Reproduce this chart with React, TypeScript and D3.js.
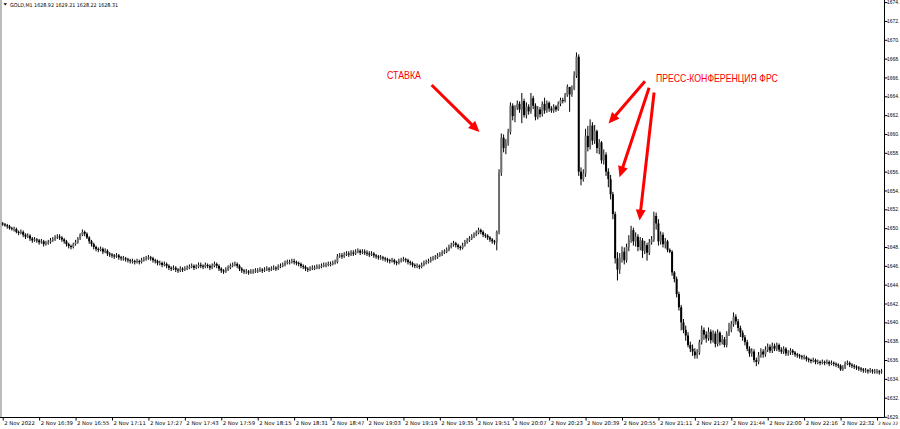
import React, { useEffect, useRef } from "react";
import * as d3 from "d3";

const W = 900;
const H = 429;

const headerText = "GOLD,M1  1628.92 1629.21 1628.22 1628.31";
const firstOpen = 1650.5;

const closes = [
  1650.4,1650.3,1650.2,1650.0,1649.9,1649.9,1649.6,1649.5,1649.6,1649.3,1649.1,1649.2,1648.9,1648.7,1648.8,1648.7,
  1648.5,1648.6,1648.3,1648.4,1648.5,1648.7,1648.8,1649.0,1649.1,1649.0,1648.8,1648.6,1648.3,1648.1,1648.0,1648.3,
  1648.5,1648.9,1649.3,1649.6,1649.4,1649.0,1648.6,1648.3,1648.0,1647.8,1647.7,1647.8,1647.5,1647.6,1647.3,1647.2,
  1647.1,1647.0,1647.1,1646.9,1646.8,1646.8,1646.7,1646.6,1646.5,1646.5,1646.4,1646.5,1646.4,1646.6,1646.7,1646.8,
  1646.9,1646.8,1646.6,1646.5,1646.3,1646.3,1646.1,1646.2,1646.0,1645.8,1645.7,1645.8,1645.6,1645.5,1645.7,1645.6,
  1645.7,1645.8,1645.9,1646.0,1645.8,1645.9,1646.1,1646.0,1645.9,1646.1,1646.0,1645.8,1646.0,1646.2,1646.0,1645.7,
  1645.5,1645.4,1645.6,1645.8,1646.0,1646.1,1646.2,1646.0,1645.7,1645.5,1645.4,1645.4,1645.3,1645.4,1645.4,1645.5,
  1645.5,1645.6,1645.5,1645.6,1645.7,1645.6,1645.7,1645.8,1645.7,1645.9,1646.0,1646.1,1646.3,1646.4,1646.4,1646.5,
  1646.4,1646.3,1646.2,1646.0,1645.9,1645.7,1645.6,1645.7,1645.8,1645.8,1645.9,1645.9,1646.0,1646.1,1646.1,1646.2,
  1646.2,1646.3,1646.4,1647.0,1647.1,1647.0,1647.2,1647.3,1647.2,1647.4,1647.3,1647.5,1647.6,1647.4,1647.5,1647.4,
  1647.3,1647.2,1647.3,1647.1,1647.0,1646.9,1646.9,1646.8,1646.7,1646.6,1646.5,1646.6,1646.4,1646.3,1646.5,1646.6,
  1646.7,1646.6,1646.4,1646.3,1646.1,1646.0,1646.0,1645.9,1646.1,1646.3,1646.4,1646.5,1646.7,1646.8,1646.9,1647.1,
  1647.2,1647.4,1647.5,1647.7,1648.0,1648.2,1648.4,1648.2,1648.0,1647.9,1648.2,1648.5,1648.7,1648.9,1649.1,1649.3,
  1649.5,1649.8,1649.6,1649.3,1649.2,1649.0,1648.8,1648.6,1648.5,1649.6,1655.9,1659.6,1658.5,1659.0,1660.2,1663.0,
  1661.9,1662.8,1663.2,1662.6,1663.5,1662.0,1662.9,1662.4,1663.8,1663.0,1661.8,1662.6,1662.1,1663.2,1662.5,1663.3,
  1662.7,1662.5,1662.9,1662.6,1663.2,1663.6,1663.5,1664.1,1665.0,1664.2,1664.8,1666.2,1668.2,1656.0,1655.2,1655.8,
  1659.8,1658.6,1660.9,1659.3,1660.3,1658.5,1659.1,1657.2,1657.8,1656.0,1655.2,1653.6,1651.5,1646.8,1645.6,1646.9,
  1647.5,1646.6,1648.0,1648.8,1649.8,1648.6,1649.1,1648.0,1648.7,1647.6,1648.2,1647.4,1648.5,1648.8,1651.3,1650.5,
  1648.6,1649.3,1648.3,1648.6,1647.7,1647.5,1645.3,1644.6,1643.0,1641.6,1640.0,1639.2,1638.6,1637.6,1637.2,1636.9,
  1636.5,1636.8,1637.9,1639.2,1638.7,1638.3,1639.0,1638.1,1638.8,1637.7,1638.9,1637.9,1638.2,1637.6,1638.8,1639.3,
  1639.8,1640.6,1640.1,1639.4,1638.9,1638.4,1637.9,1637.2,1636.7,1636.9,1636.0,1635.8,1636.5,1636.9,1636.6,1637.1,
  1637.4,1637.0,1637.5,1637.2,1637.6,1637.1,1636.9,1637.2,1636.7,1636.8,1637.0,1636.8,1636.6,1636.5,1636.4,1636.3,
  1636.3,1636.1,1636.0,1635.9,1636.0,1635.8,1635.8,1635.7,1635.8,1635.7,1635.8,1635.6,1635.7,1635.6,1635.5,1635.4,
  1635.0,1635.2,1635.6,1635.7,1635.5,1635.4,1635.3,1635.2,1635.1,1635.0,1634.9,1634.9,1634.8,1634.9,1634.8,1634.8,
  1634.8,1634.7,1634.8,
];

const highs = [
  1650.6,1650.5,1650.4,1650.3,1650.1,1650.1,1650.0,1649.7,1649.8,1649.7,1649.4,1649.4,1649.3,1649.0,1649.0,1648.9,
  1648.8,1648.8,1648.7,1648.6,1648.7,1648.9,1649.0,1649.2,1649.3,1649.3,1649.1,1648.9,1648.7,1648.4,1648.2,1648.4,
  1648.7,1649.0,1649.4,1649.8,1649.7,1649.5,1649.1,1648.7,1648.4,1648.1,1647.9,1648.0,1647.9,1647.8,1647.7,1647.4,
  1647.3,1647.2,1647.3,1647.2,1647.0,1647.0,1646.9,1646.8,1646.7,1646.7,1646.6,1646.7,1646.6,1646.8,1646.9,1647.0,
  1647.1,1647.0,1646.9,1646.7,1646.6,1646.5,1646.4,1646.4,1646.3,1646.1,1645.9,1646.0,1645.9,1645.7,1645.9,1645.8,
  1645.9,1646.0,1646.1,1646.2,1646.1,1646.1,1646.3,1646.3,1646.1,1646.3,1646.2,1646.1,1646.2,1646.4,1646.3,1646.1,
  1645.8,1645.6,1645.8,1646.0,1646.2,1646.3,1646.4,1646.3,1646.1,1645.8,1645.6,1645.6,1645.5,1645.6,1645.6,1645.7,
  1645.7,1645.8,1645.7,1645.8,1645.9,1645.8,1645.9,1646.0,1645.9,1646.1,1646.2,1646.3,1646.5,1646.6,1646.6,1646.7,
  1646.7,1646.5,1646.4,1646.3,1646.1,1646.0,1645.8,1645.9,1646.0,1646.0,1646.1,1646.1,1646.2,1646.3,1646.3,1646.4,
  1646.4,1646.5,1646.6,1647.2,1647.3,1647.3,1647.4,1647.5,1647.5,1647.6,1647.6,1647.7,1647.8,1647.7,1647.7,1647.7,
  1647.6,1647.5,1647.5,1647.4,1647.2,1647.1,1647.1,1647.0,1646.9,1646.8,1646.7,1646.8,1646.7,1646.5,1646.7,1646.8,
  1646.9,1646.8,1646.7,1646.5,1646.4,1646.2,1646.2,1646.1,1646.3,1646.5,1646.6,1646.7,1646.9,1647.0,1647.1,1647.3,
  1647.4,1647.6,1647.7,1647.9,1648.2,1648.4,1648.6,1648.5,1648.3,1648.1,1648.4,1648.7,1648.9,1649.1,1649.3,1649.5,
  1649.7,1650.0,1649.9,1649.7,1649.4,1649.3,1649.1,1648.9,1648.7,1649.7,1656.2,1660.0,1659.9,1659.4,1660.5,1663.3,
  1663.2,1663.0,1663.5,1663.4,1664.3,1663.7,1663.3,1663.1,1664.3,1664.0,1663.2,1662.9,1662.8,1663.4,1663.8,1663.5,
  1663.4,1662.9,1663.1,1663.0,1663.4,1663.8,1663.8,1664.3,1665.2,1664.9,1665.1,1666.6,1668.6,1668.4,1656.4,1656.2,
  1660.5,1660.8,1661.5,1661.2,1660.9,1660.4,1659.4,1659.2,1658.3,1658.0,1656.3,1655.6,1653.8,1651.7,1647.4,1647.3,
  1648.0,1647.9,1648.3,1649.2,1650.2,1650.0,1649.5,1649.3,1649.0,1648.9,1648.6,1648.4,1648.8,1649.1,1651.7,1651.6,
  1650.9,1649.6,1649.5,1648.9,1648.7,1647.8,1647.6,1645.4,1644.8,1643.2,1641.8,1640.3,1639.6,1638.9,1637.9,1637.6,
  1637.2,1637.1,1638.1,1639.6,1639.4,1639.0,1639.4,1639.2,1639.1,1639.0,1639.2,1639.0,1638.6,1638.4,1639.0,1639.9,
  1640.1,1641.0,1640.8,1640.3,1639.6,1639.1,1638.6,1638.1,1637.4,1637.2,1637.1,1636.2,1636.8,1637.2,1637.1,1637.4,
  1637.7,1637.6,1637.8,1637.7,1637.8,1637.7,1637.3,1637.4,1637.3,1637.0,1637.2,1637.1,1636.9,1636.7,1636.6,1636.5,
  1636.5,1636.4,1636.2,1636.1,1636.2,1636.1,1636.0,1635.9,1636.0,1635.9,1636.0,1635.9,1635.9,1635.8,1635.7,1635.6,
  1635.5,1635.4,1635.8,1635.9,1635.8,1635.6,1635.5,1635.4,1635.3,1635.2,1635.1,1635.1,1635.0,1635.1,1635.0,1635.0,
  1635.0,1634.9,1635.0,
];

const lows = [
  1650.3,1650.2,1650.0,1649.9,1649.8,1649.7,1649.5,1649.3,1649.4,1649.1,1648.9,1649.0,1648.7,1648.5,1648.6,1648.5,
  1648.3,1648.4,1648.1,1648.2,1648.3,1648.4,1648.6,1648.7,1648.9,1648.8,1648.6,1648.4,1648.1,1647.9,1647.8,1647.9,
  1648.2,1648.4,1648.8,1649.2,1649.2,1648.9,1648.4,1648.1,1647.8,1647.6,1647.5,1647.6,1647.3,1647.4,1647.1,1647.0,
  1646.9,1646.8,1646.9,1646.7,1646.6,1646.6,1646.5,1646.4,1646.3,1646.3,1646.2,1646.3,1646.2,1646.3,1646.5,1646.6,
  1646.7,1646.6,1646.4,1646.3,1646.1,1646.1,1645.9,1646.0,1645.8,1645.6,1645.5,1645.6,1645.4,1645.3,1645.4,1645.4,
  1645.5,1645.6,1645.7,1645.8,1645.6,1645.7,1645.8,1645.8,1645.7,1645.8,1645.8,1645.6,1645.7,1645.9,1645.8,1645.5,
  1645.3,1645.2,1645.3,1645.5,1645.7,1645.9,1646.0,1645.8,1645.5,1645.3,1645.2,1645.2,1645.1,1645.2,1645.2,1645.3,
  1645.3,1645.4,1645.3,1645.4,1645.5,1645.4,1645.5,1645.6,1645.5,1645.6,1645.8,1645.9,1646.0,1646.2,1646.2,1646.3,
  1646.2,1646.1,1646.0,1645.8,1645.7,1645.5,1645.4,1645.5,1645.6,1645.6,1645.7,1645.7,1645.8,1645.9,1645.9,1646.0,
  1646.0,1646.1,1646.2,1646.3,1646.9,1646.8,1646.9,1647.1,1647.0,1647.1,1647.1,1647.2,1647.4,1647.2,1647.3,1647.2,
  1647.1,1647.0,1647.1,1646.9,1646.8,1646.7,1646.7,1646.6,1646.5,1646.4,1646.3,1646.4,1646.2,1646.1,1646.2,1646.4,
  1646.5,1646.4,1646.2,1646.1,1645.9,1645.8,1645.8,1645.7,1645.8,1646.0,1646.2,1646.3,1646.4,1646.6,1646.7,1646.8,
  1647.0,1647.1,1647.3,1647.4,1647.6,1647.9,1648.1,1648.0,1647.8,1647.7,1647.8,1648.1,1648.4,1648.6,1648.8,1649.0,
  1649.2,1649.4,1649.4,1649.1,1649.0,1648.8,1648.6,1648.4,1648.3,1647.7,1649.4,1655.6,1658.1,1657.9,1658.8,1660.0,
  1661.5,1661.3,1662.6,1662.3,1661.2,1661.8,1661.7,1662.1,1662.2,1662.7,1661.5,1661.6,1661.8,1661.9,1662.2,1662.3,
  1662.4,1662.3,1662.3,1662.4,1662.5,1663.0,1663.3,1663.4,1664.0,1662.4,1664.0,1664.7,1666.0,1655.6,1654.6,1655.0,
  1655.5,1658.2,1658.4,1658.9,1659.0,1658.0,1657.9,1656.9,1656.8,1655.6,1654.4,1653.1,1651.0,1646.3,1644.5,1645.2,
  1646.4,1646.2,1646.4,1647.6,1648.5,1648.2,1648.1,1647.6,1647.7,1646.9,1647.3,1646.6,1647.2,1648.3,1648.6,1649.9,
  1648.2,1648.3,1648.0,1647.9,1647.5,1647.4,1645.0,1644.3,1642.7,1641.3,1639.2,1638.9,1638.1,1637.4,1636.9,1636.5,
  1636.2,1636.2,1636.6,1637.7,1638.2,1637.9,1638.1,1637.8,1637.9,1637.4,1637.5,1637.6,1637.7,1637.4,1637.4,1638.6,
  1639.0,1639.6,1639.8,1639.1,1638.5,1638.1,1637.6,1637.0,1636.4,1636.4,1635.8,1635.4,1635.6,1636.3,1636.3,1636.4,
  1636.9,1636.8,1636.8,1637.0,1637.0,1636.9,1636.7,1636.7,1636.5,1636.5,1636.6,1636.6,1636.4,1636.3,1636.2,1636.1,
  1636.1,1635.9,1635.8,1635.7,1635.8,1635.6,1635.6,1635.5,1635.6,1635.5,1635.6,1635.4,1635.5,1635.4,1635.3,1635.2,
  1634.9,1634.9,1635.1,1635.5,1635.3,1635.2,1635.1,1635.0,1634.9,1634.8,1634.7,1634.7,1634.6,1634.7,1634.6,1634.6,
  1634.6,1634.5,1634.6,
];

const timeLabels = [
  "2 Nov 2022", "2 Nov 16:39", "2 Nov 16:55", "2 Nov 17:11", "2 Nov 17:27", "2 Nov 17:43",
  "2 Nov 17:59", "2 Nov 18:15", "2 Nov 18:31", "2 Nov 18:47", "2 Nov 19:03", "2 Nov 19:19",
  "2 Nov 19:35", "2 Nov 19:51", "2 Nov 20:07", "2 Nov 20:23", "2 Nov 20:39", "2 Nov 20:55",
  "2 Nov 21:11", "2 Nov 21:27", "2 Nov 21:44", "2 Nov 22:00", "2 Nov 22:16", "2 Nov 22:32",
  "2 Nov 22",
];
const labelEvery = 16;

// price scale labels as visible at the window edge
const priceTicks = [1674, 1672, 1670, 1668, 1666, 1664, 1662, 1660, 1658, 1656, 1654, 1652, 1650, 1648, 1646, 1644, 1642, 1640, 1638, 1636, 1634, 1632];
const bottomPrice = 1629.97;

// annotations in data coordinates (bar index, price)
const noteTexts = ["СТАВКА", "ПРЕСС-КОНФЕРЕНЦИЯ ФРС"];
const noteIdx = [168.8, 286.9];
const notePrice = [1665.8, 1665.5];
const noteWidth = [34, 122];

const arrowFromIdx = [188.4, 282.1, 283.9, 286.1];
const arrowFromPrice = [1665.2, 1665.6, 1664.9, 1664.4];
const arrowToIdx = [209.4, 266.1, 270.9, 279.7];
const arrowToPrice = [1660.2, 1661.1, 1655.4, 1650.8];

export default function App() {
  const ref = useRef<SVGSVGElement>(null);

  useEffect(() => {
    const svg = d3.select(ref.current);
    svg.selectAll("*").remove();

    const plotRight = 884.5;
    const plotBottom = 417.5;
    const x = d3.scaleLinear().domain([0, 384]).range([2.7, 877]);
    const y = d3.scaleLinear().domain([1632, 1674]).range([397.7, 2.1]);

    svg.append("rect").attr("width", W).attr("height", H).attr("fill", "#ffffff");

    const defs = svg.append("defs");
    defs.append("clipPath").attr("id", "plotClip")
      .append("rect").attr("x", 0).attr("y", 0).attr("width", plotRight).attr("height", plotBottom);

    // left window border
    svg.append("rect").attr("x", 0).attr("y", 0).attr("width", 2).attr("height", plotBottom)
      .attr("fill", "#bcbcbc");

    const bars = closes.map((c, i) => ({
      i,
      o: i === 0 ? firstOpen : closes[i - 1],
      h: highs[i],
      l: lows[i],
      c,
    }));

    const g = svg.append("g").attr("clip-path", "url(#plotClip)");
    g.selectAll("line.wick").data(bars).join("line")
      .attr("class", "wick")
      .attr("x1", (d) => x(d.i)).attr("x2", (d) => x(d.i))
      .attr("y1", (d) => y(d.h) - 0.5).attr("y2", (d) => y(d.l) + 0.5)
      .attr("stroke", "#000").attr("stroke-width", 1);
    g.selectAll("rect.body").data(bars).join("rect")
      .attr("class", "body")
      .attr("x", (d) => x(d.i) - 1)
      .attr("width", 2)
      .attr("y", (d) => y(Math.max(d.o, d.c)))
      .attr("height", (d) => Math.max(1, Math.abs(y(d.o) - y(d.c))))
      .attr("fill", (d) => (d.c >= d.o ? "#6e6e6e" : "#000"));

    // right price axis
    const yAxis = d3.axisRight(y)
      .tickValues([...priceTicks, bottomPrice])
      .tickFormat((d) => `${Math.floor(d as number)}.`)
      .tickSize(3)
      .tickSizeOuter(0)
      .tickPadding(-0.5);
    const ya = svg.append("g").attr("transform", `translate(${plotRight},0)`).call(yAxis);
    ya.select(".domain").remove();
    ya.selectAll("line").attr("stroke", "#000");
    ya.selectAll("text")
      .attr("font-family", "'Liberation Sans', Arial, sans-serif")
      .attr("font-size", 4.9)
      .attr("fill", "#000");

    // bottom time axis
    const xAxis = d3.axisBottom(x)
      .tickValues(d3.range(0, timeLabels.length * labelEvery, labelEvery))
      .tickFormat((d, k) => timeLabels[k])
      .tickSize(3)
      .tickSizeOuter(0)
      .tickPadding(1);
    const xa = svg.append("g").attr("transform", `translate(0,${plotBottom})`).call(xAxis);
    xa.select(".domain").remove();
    xa.selectAll("line").attr("stroke", "#000");
    const xt = xa.selectAll("text")
      .attr("text-anchor", "start")
      .attr("x", 1)
      .attr("font-family", "'DejaVu Sans', sans-serif")
      .attr("font-size", 5.3)
      .attr("fill", "#000");
    xt.filter((d, k) => k === timeLabels.length - 1)
      .attr("x", 0.5)
      .attr("font-size", 4.5);

    // axis frame lines
    svg.append("line").attr("x1", 0).attr("x2", plotRight).attr("y1", plotBottom).attr("y2", plotBottom)
      .attr("stroke", "#000").attr("stroke-width", 1);
    svg.append("line").attr("x1", plotRight).attr("x2", plotRight).attr("y1", 0).attr("y2", plotBottom)
      .attr("stroke", "#000").attr("stroke-width", 1);

    // header
    svg.append("path")
      .attr("d", "M3.5,3.2 L7,3.2 L5.25,5.6 Z")
      .attr("fill", "#000");
    svg.append("text")
      .attr("x", 10).attr("y", 6.8)
      .attr("font-family", "'DejaVu Sans', sans-serif")
      .attr("font-size", 5.3)
      .attr("textLength", 108)
      .attr("lengthAdjust", "spacingAndGlyphs")
      .attr("fill", "#000")
      .text(headerText);

    // annotations
    const red = "#ff0000";
    noteTexts.forEach((t, k) => {
      svg.append("text")
        .attr("x", x(noteIdx[k]))
        .attr("y", y(notePrice[k]))
        .attr("font-family", "'Liberation Sans', Arial, sans-serif")
        .attr("font-size", 10.5)
        .attr("textLength", noteWidth[k])
        .attr("lengthAdjust", "spacingAndGlyphs")
        .attr("fill", red)
        .text(t);
    });

    arrowFromIdx.forEach((_, k) => {
      const x1 = x(arrowFromIdx[k]);
      const y1 = y(arrowFromPrice[k]);
      const x2 = x(arrowToIdx[k]);
      const y2 = y(arrowToPrice[k]);
      const dx = x2 - x1;
      const dy = y2 - y1;
      const len = Math.hypot(dx, dy);
      const ux = dx / len;
      const uy = dy / len;
      const headL = 11;
      const headW = 5;
      const bx = x2 - ux * headL;
      const by = y2 - uy * headL;
      svg.append("line")
        .attr("x1", x1).attr("y1", y1).attr("x2", bx + ux * 1).attr("y2", by + uy * 1)
        .attr("stroke", red).attr("stroke-width", 3);
      svg.append("path")
        .attr("d", `M${x2},${y2} L${bx - uy * headW},${by + ux * headW} L${bx + uy * headW},${by - ux * headW} Z`)
        .attr("fill", red);
    });
  }, []);

  return (
    <svg
      ref={ref}
      width={W}
      height={H}
      style={{ position: "absolute", left: 0, top: 0, display: "block", overflow: "hidden" }}
    />
  );
}
